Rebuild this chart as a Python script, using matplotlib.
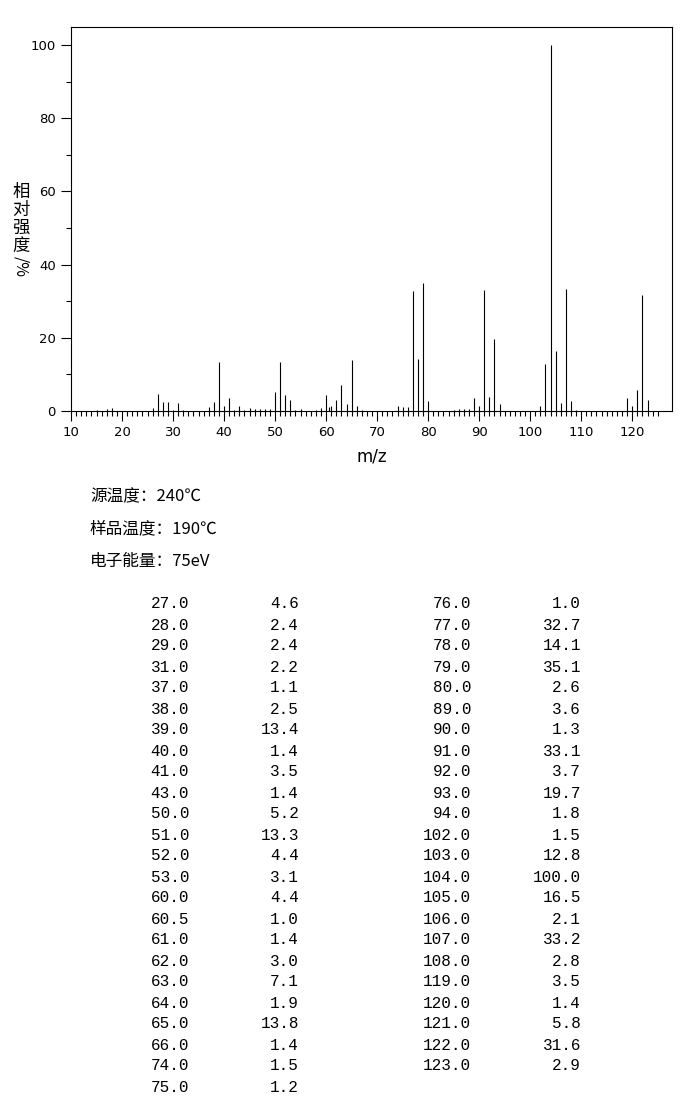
import matplotlib
matplotlib.use("Agg")
import matplotlib.pyplot as plt
from matplotlib.ticker import FixedLocator

# 质谱峰 (表中列出的峰, 相对强度 >= 1.0)
mz = [27.0, 28.0, 29.0, 31.0, 37.0, 38.0, 39.0, 40.0, 41.0, 43.0, 50.0, 51.0,
      52.0, 53.0, 60.0, 60.5, 61.0, 62.0, 63.0, 64.0, 65.0, 66.0, 74.0, 75.0,
      76.0, 77.0, 78.0, 79.0, 80.0, 89.0, 90.0, 91.0, 92.0, 93.0, 94.0, 102.0,
      103.0, 104.0, 105.0, 106.0, 107.0, 108.0, 119.0, 120.0, 121.0, 122.0, 123.0]
intensity = [4.6, 2.4, 2.4, 2.2, 1.1, 2.5, 13.4, 1.4, 3.5, 1.4, 5.2, 13.3,
             4.4, 3.1, 4.4, 1.0, 1.4, 3.0, 7.1, 1.9, 13.8, 1.4, 1.5, 1.2,
             1.0, 32.7, 14.1, 35.1, 2.6, 3.6, 1.3, 33.1, 3.7, 19.7, 1.8, 1.5,
             12.8, 100.0, 16.5, 2.1, 33.2, 2.8, 3.5, 1.4, 5.8, 31.6, 2.9]

# 图中可见但未列入表的小峰 (估计值)
small_mz = [15, 17, 18, 26, 30, 32, 42, 44, 45, 46, 47, 48, 49, 54, 55, 58, 59,
            67, 85, 86, 87, 88, 109]
small_int = [0.4, 0.5, 0.7, 0.9, 0.4, 0.3, 0.4, 0.3, 0.8, 0.6, 0.5, 0.6, 0.6,
             0.4, 0.6, 0.4, 0.8, 0.4, 0.4, 0.5, 0.6, 0.5, 0.4]

x_major = [10, 20, 30, 40, 50, 60, 70, 80, 90, 100, 110, 120]
y_major = [0, 20, 40, 60, 80, 100]

info_lines = ["源温度：240℃", "样品温度：190℃", "电子能量：75eV"]

W, H = 696, 1106
fig = plt.figure(figsize=(W / 100, H / 100), dpi=100)

def fx(px):
    return px / W

def fy(py):
    return 1 - py / H

ax = fig.add_axes([fx(71), fy(411), fx(672) - fx(71), fy(27) - fy(411)])
lw = 0.8
ax.vlines(small_mz, 0, small_int, color="black", linewidth=lw)
ax.vlines(mz, 0, intensity, color="black", linewidth=lw)

ax.set_xlim(10, 127.8)
ax.set_ylim(0, 104.9)
for s in ax.spines.values():
    s.set_linewidth(lw)

ax.xaxis.set_major_locator(FixedLocator(x_major))
ax.xaxis.set_minor_locator(FixedLocator(list(range(10, 126))))
ax.yaxis.set_major_locator(FixedLocator(y_major))
ax.yaxis.set_minor_locator(FixedLocator([10, 30, 50, 70, 90]))
ax.tick_params(axis="both", which="major", length=7, width=lw, direction="out",
               labelsize=9.5, pad=4)
ax.tick_params(axis="both", which="minor", length=3.5, width=lw, direction="out")

ax.set_xlabel("m/z", fontsize=12, labelpad=6)

# 纵轴标题: 竖排汉字
cjk = ["Noto Sans CJK SC", "DejaVu Sans"]
for i, ch in enumerate("相对强度"):
    fig.text(fx(21), fy(192 + i * 18), ch, family=cjk, fontsize=12.5,
             ha="center", va="center")
fig.text(fx(21), fy(266), "/%", family=cjk, fontsize=11.5, rotation=-90,
         ha="center", va="center")

for i, line in enumerate(info_lines):
    fig.text(fx(90), fy(497 + i * 32), line, family=cjk, fontsize=12,
             ha="left", va="center")

# 数据表
n_left = 24
col_right = [189, 299, 471, 581]
for i, (m, v) in enumerate(zip(mz, intensity)):
    col = 0 if i < n_left else 2
    row = i if i < n_left else i - n_left
    y = fy(604 + row * 21)
    fig.text(fx(col_right[col]), y, f"{m:.1f}", family="Liberation Mono",
             fontsize=11.5, ha="right", va="center")
    fig.text(fx(col_right[col + 1]), y, f"{v:.1f}", family="Liberation Mono",
             fontsize=11.5, ha="right", va="center")

fig.savefig("out.png", dpi=100)
